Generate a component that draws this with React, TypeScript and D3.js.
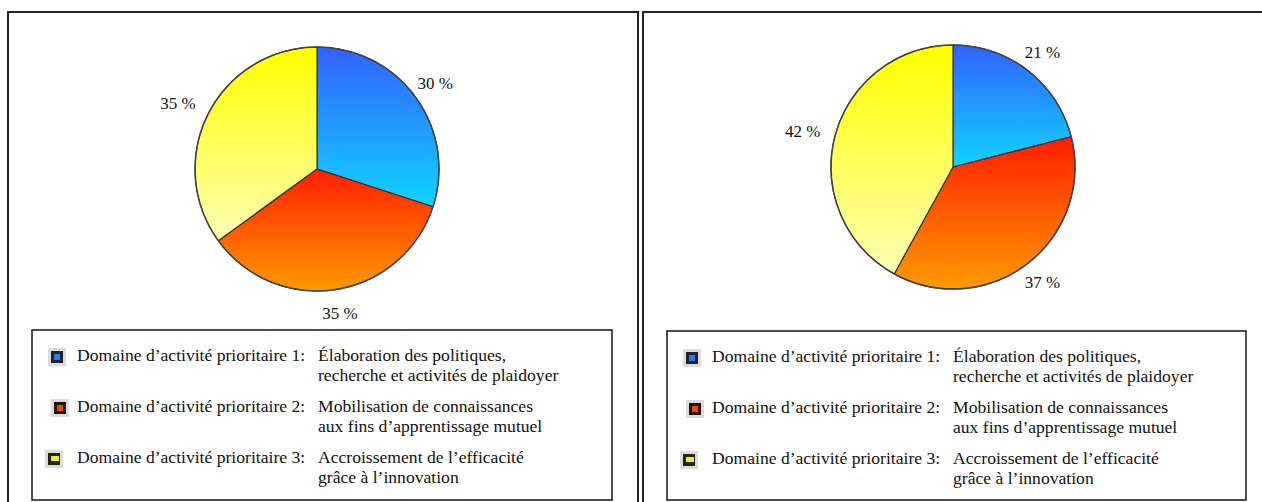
import React from 'react';
import * as d3 from 'd3';

// data
const domains = [
  'Domaine d’activité prioritaire 1:',
  'Domaine d’activité prioritaire 2:',
  'Domaine d’activité prioritaire 3:',
];
const descLine1 = ['Élaboration des politiques,', 'Mobilisation de connaissances', 'Accroissement de l’efficacité'];
const descLine2 = ['recherche et activités de plaidoyer', 'aux fins d’apprentissage mutuel', 'grâce à l’innovation'];
const leftValues = [30, 35, 35];
const rightValues = [21, 37, 42];

// gradient top/bottom per slice, and legend icon colours
const gradTop = ['#3262ff', '#ff1e00', '#ffff00'];
const gradBottom = ['#10d4ff', '#ff9a00', '#ffffb4'];
const iconOuter = ['#1b2130', '#2a1008', '#25250c'];
const iconInner = ['#2a7cf0', '#e84a10', '#e8e848'];

const W = 1262, H = 502;
const FONT = "'Liberation Serif', 'Times New Roman', serif";

type PanelProps = { id: string; values: number[]; cx: number; cy: number; box: { x: number; y: number; w: number; h: number } };

const Panel = ({ id, values, cx, cy, box }: PanelProps) => {
  const r = 122;
  const pie = d3.pie<number>().sort(null).value(d => d)(values);
  const arc = d3.arc<d3.PieArcDatum<number>>().innerRadius(0).outerRadius(r);
  const labelArc = d3.arc<d3.PieArcDatum<number>>().innerRadius(146).outerRadius(146);
  const iconDx = [0, 3, -3];

  return (
    <g>
      <defs>
        {values.map((_, i) => (
          <linearGradient key={i} id={`${id}-g${i}`} x1="0" y1="0" x2="0" y2="1">
            <stop offset="0" stopColor={gradTop[i]} />
            <stop offset="1" stopColor={gradBottom[i]} />
          </linearGradient>
        ))}
      </defs>
      <g transform={`translate(${cx},${cy})`}>
        {pie.map((s, i) => (
          <path key={i} d={arc(s) || ''} fill={`url(#${id}-g${i})`} stroke="#2a2a2a" strokeWidth={1.1} strokeLinejoin="round" />
        ))}
        <circle r={r} fill="none" stroke="#444" strokeWidth={1.5} />
        {pie.map((s, i) => {
          const [lx, ly] = labelArc.centroid(s);
          const mid = (s.startAngle + s.endAngle) / 2;
          const x = lx + (mid > Math.PI ? -9 : 0);
          return (
            <g key={'l' + i}>
              <rect x={x - 19} y={ly - 11} width={38} height={22} fill="#fff" />
              <text x={x} y={ly} dy="0.35em" textAnchor="middle" fontFamily={FONT} fontSize={17} fill="#111">
                {`${s.data} %`}
              </text>
            </g>
          );
        })}
      </g>
      <rect x={box.x} y={box.y} width={box.w} height={box.h} fill="none" stroke="#222" strokeWidth={1.6} />
      {domains.map((dname, i) => {
        const base = box.y + 31 + i * 51;
        const ix = box.x + 19 + iconDx[i];
        const iy = base - 10;
        return (
          <g key={dname}>
            <rect x={ix - 3} y={iy - 3} width={18} height={18} fill="#b8b8b8" opacity={0.5} />
            <rect x={ix} y={iy} width={12} height={12} fill={iconOuter[i]} />
            <rect x={ix + 3} y={iy + 3} width={i === 2 ? 8 : 6} height={i === 2 ? 5 : 6} fill={iconInner[i]} />
            <text x={box.x + 45} y={base} fontFamily={FONT} fontSize={17.6} fill="#111">{dname}</text>
            <text x={box.x + 286} y={base} fontFamily={FONT} fontSize={17.6} fill="#111">{descLine1[i]}</text>
            <text x={box.x + 286} y={base + 19.5} fontFamily={FONT} fontSize={17.6} fill="#111">{descLine2[i]}</text>
          </g>
        );
      })}
    </g>
  );
};

export default function App() {
  return (
    <svg width={W} height={H} style={{ position: 'absolute', left: 0, top: 0, background: '#fff' }}>
      <rect x={0} y={0} width={W} height={H} fill="#fff" />
      {/* outer frames, open at the bottom */}
      <path d={`M8,${H + 2} V12 H638 V${H + 2}`} fill="none" stroke="#222" strokeWidth={2} />
      <path d={`M643,${H + 2} V12 H${W + 2}`} fill="none" stroke="#222" strokeWidth={2} />
      <Panel id="left" values={leftValues} cx={317} cy={169} box={{ x: 32, y: 330, w: 580, h: 170 }} />
      <Panel id="right" values={rightValues} cx={953} cy={167} box={{ x: 667, y: 331, w: 579, h: 169 }} />
    </svg>
  );
}
